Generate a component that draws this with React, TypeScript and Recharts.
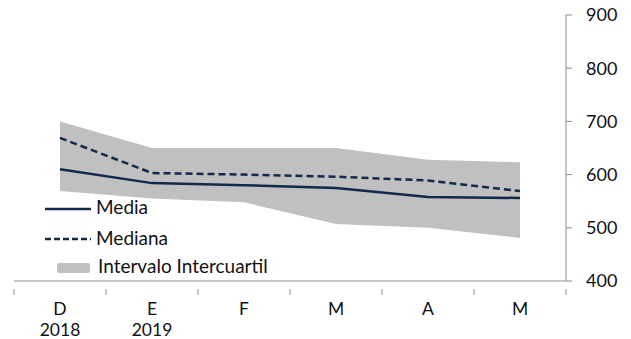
import React from "react";
import { ComposedChart, Area, Line, XAxis, YAxis } from "recharts";

const months = ["D", "E", "F", "M", "A", "M"];
const years = ["2018", "2019", "", "", "", ""];
const media = [610, 584, 580, 575, 558, 556];
const mediana = [669, 603, 600, 596, 589, 569];
const q1 = [569, 555, 548, 507, 500, 481];
const q3 = [700, 650, 650, 650, 628, 623];
const yTicks = [400, 500, 600, 700, 800, 900];

const data = months.map((m, i) => ({
  idx: i,
  month: m,
  year: years[i],
  media: media[i],
  mediana: mediana[i],
  range: [q1[i], q3[i]],
}));

// label ticks at category centres, tick marks at category boundaries
const xTicks: number[] = [];
for (let i = 0; i <= months.length; i++) {
  xTicks.push(i - 0.5);
  if (i < months.length) xTicks.push(i);
}

const NAVY = "#13294b";
const GRAY = "#c0c0c0";
const AXIS = "#8c8c8c";
const FONT = "Lato, 'Liberation Sans', sans-serif";

const MonthTick = ({ x, y, payload }: any) => {
  const v = payload.value;
  if (!Number.isInteger(v)) {
    return <line x1={x} y1={y} x2={x} y2={y + 6} stroke={AXIS} />;
  }
  const row = data[v];
  return (
    <g>
      <text x={x} y={y + 26} textAnchor="middle" fontSize={17.5} fontFamily={FONT} fill="#111">
        {row.month}
      </text>
      {row.year && (
        <text x={x} y={y + 47} textAnchor="middle" fontSize={17.5} fontFamily={FONT} fill="#111">
          {row.year}
        </text>
      )}
    </g>
  );
};

const LegendBox = () => (
  <svg
    width={270}
    height={85}
    style={{ position: "absolute", left: 40, top: 195 }}
  >
    <line x1={5} y1={14} x2={51} y2={14} stroke={NAVY} strokeWidth={2.5} />
    <text x={56} y={19} fontSize={19} fontFamily={FONT} fill="#111">Media</text>
    <line x1={5} y1={44} x2={51} y2={44} stroke={NAVY} strokeWidth={2.5} strokeDasharray="6 3" />
    <text x={56} y={50} fontSize={19} fontFamily={FONT} fill="#111">Mediana</text>
    <rect x={17} y={68} width={33} height={10} rx={2} fill={GRAY} />
    <text x={58} y={78} fontSize={19} fontFamily={FONT} fill="#111">Intervalo Intercuartil</text>
  </svg>
);

export default function App() {
  return (
    <div style={{ position: "absolute", left: 0, top: 0, width: 631, height: 339, background: "#fff" }}>
      <ComposedChart
        width={631}
        height={339}
        data={data}
        margin={{ top: 15, right: 0, bottom: 0, left: 14 }}
      >
        <XAxis
          dataKey="idx"
          type="number"
          domain={[-0.5, 5.5]}
          ticks={xTicks}
          interval={0}
          tick={<MonthTick />}
          tickLine={false}
          stroke={AXIS}
          height={58}
        />
        <YAxis
          orientation="right"
          domain={[400, 900]}
          ticks={yTicks}
          width={65}
          stroke={AXIS}
          tickSize={6}
          tickMargin={14}
          tick={{ fill: "#111", fontSize: 18, fontFamily: FONT, textAnchor: "start" }}
        />
        <Area
          dataKey="range"
          name="Intervalo Intercuartil"
          type="linear"
          fill={GRAY}
          fillOpacity={1}
          stroke="none"
          isAnimationActive={false}
        />
        <Line
          dataKey="media"
          name="Media"
          type="linear"
          stroke={NAVY}
          strokeWidth={2.5}
          dot={false}
          isAnimationActive={false}
        />
        <Line
          dataKey="mediana"
          name="Mediana"
          type="linear"
          stroke={NAVY}
          strokeWidth={2.5}
          strokeDasharray="7 4"
          dot={false}
          isAnimationActive={false}
        />
      </ComposedChart>
      <LegendBox />
    </div>
  );
}
